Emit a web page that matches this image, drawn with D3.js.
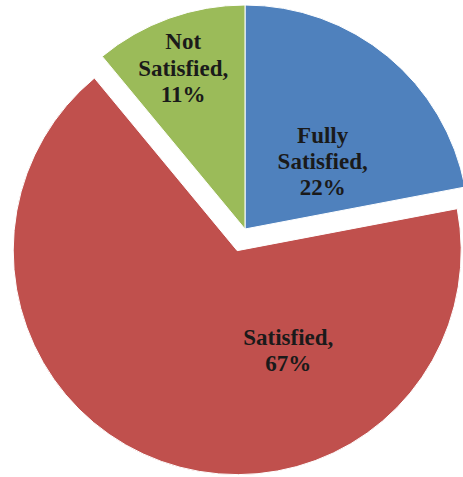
<!DOCTYPE html>
<html>
<head>
<meta charset="utf-8">
<script src="https://cdn.jsdelivr.net/npm/d3@7"></script>
<style>
  html, body { margin: 0; padding: 0; background: #ffffff; }
  svg { display: block; }
</style>
</head>
<body>
<svg id="chart" width="463" height="477"></svg>
<script>
// Satisfaction survey shares
const categories = ["Fully Satisfied", "Satisfied", "Not Satisfied"];
const values = [22, 67, 11];
const valueLabels = ["22%", "67%", "11%"];

const colors = { "Fully Satisfied": "#4F81BD", "Satisfied": "#C0504D", "Not Satisfied": "#9BBB59" };

// Layout: pie center, radius, exploded slice and label placement (angle in degrees
// from the slice bisector, distance as fraction of radius)
const cx = 245, cy = 229, radius = 224;
const explode = { "Satisfied": 23 };
const labelPlace = {
  "Fully Satisfied": { dAngle: 9.3, r: 0.46 },
  "Satisfied":       { dAngle: -46.9, r: 0.50 },
  "Not Satisfied":   { dAngle: -1.2, r: 0.77 }
};
const labelLines = {
  "Fully Satisfied": ["Fully", "Satisfied,"],
  "Satisfied": ["Satisfied,"],
  "Not Satisfied": ["Not", "Satisfied,"]
};

const data = categories.map((c, i) => ({ category: c, value: values[i], label: valueLabels[i] }));

const pie = d3.pie().sort(null).value(d => d.value).startAngle(0);
const arc = d3.arc().innerRadius(0).outerRadius(radius);
const arcs = pie(data);

const svg = d3.select("#chart");
const g = svg.append("g").attr("transform", `translate(${cx},${cy})`);

const slices = g.selectAll("g.slice").data(arcs).join("g")
  .attr("class", "slice")
  .attr("transform", d => {
    const off = explode[d.data.category] || 0;
    const mid = (d.startAngle + d.endAngle) / 2;
    return `translate(${off * Math.sin(mid)},${-off * Math.cos(mid)})`;
  });

slices.append("path")
  .attr("d", arc)
  .attr("fill", d => colors[d.data.category])
  .attr("stroke", "#ffffff")
  .attr("stroke-width", 1);

const fontSize = 23, lineH = 26.3;
slices.each(function(d) {
  const place = labelPlace[d.data.category];
  const mid = (d.startAngle + d.endAngle) / 2 + place.dAngle * Math.PI / 180;
  const lx = place.r * radius * Math.sin(mid);
  const ly = -place.r * radius * Math.cos(mid);
  const lines = labelLines[d.data.category].concat([d.data.label]);
  const t = d3.select(this).append("text")
    .attr("text-anchor", "middle")
    .attr("font-family", "'Liberation Serif', 'Times New Roman', serif")
    .attr("font-weight", "bold")
    .attr("font-size", fontSize)
    .attr("fill", "#1a1a1a");
  const firstBase = ly + 7.6 - (lines.length - 1) * lineH / 2;
  lines.forEach((ln, i) => {
    t.append("tspan").attr("x", lx).attr("y", firstBase + i * lineH).text(ln);
  });
});
</script>
</body>
</html>
